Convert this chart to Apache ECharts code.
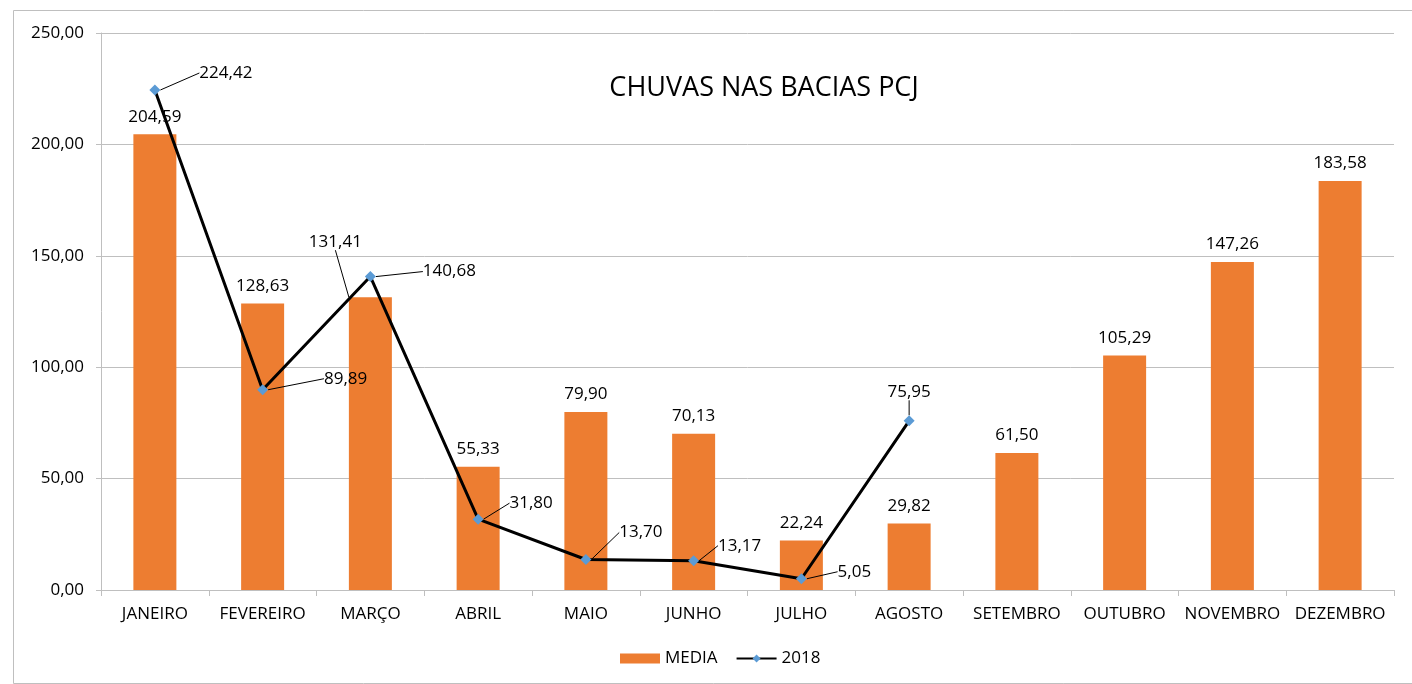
<!DOCTYPE html>
<html>
<head>
<meta charset="UTF-8">
<title>Chuvas nas Bacias PCJ</title>
<script src="https://cdn.jsdelivr.net/npm/echarts@6/dist/echarts.min.js" type="text/javascript"></script>
<style>
    body { margin: 0; background: #fff; }
    #container { width: 1412px; height: 684px; }
</style>
</head>
<body>
    <div id="container"></div>
    <script>

    // meses e valores
    var meses = ['JANEIRO', 'FEVEREIRO', 'MARÇO', 'ABRIL', 'MAIO', 'JUNHO', 'JULHO', 'AGOSTO', 'SETEMBRO', 'OUTUBRO', 'NOVEMBRO', 'DEZEMBRO'];
    var media = [204.59, 128.63, 131.41, 55.33, 79.90, 70.13, 22.24, 29.82, 61.50, 105.29, 147.26, 183.58];
    var chuva2018 = [224.42, 89.89, 140.68, 31.80, 13.70, 13.17, 5.05, 75.95, null, null, null, null];
    var yTicks = [0, 50, 100, 150, 200, 250];

    // deslocamento dos rotulos da linha 2018 (em px, a partir do ponto)
    var desloc2018 = [[71, -17], [83, -11], [79, -5], [53, -16], [55, -27], [46, -15], [53, -7], [0, -29]];

    var fonte = 'Open Sans';
    var tam = 17;

    function virgula(v) {
        return Number(v).toFixed(2).replace('.', ',');
    }

    var mychart = echarts.init(document.getElementById('container'));

    // dados das barras, o rotulo de marco fica deslocado com linha guia
    var barData = media.map(function (v, i) {
        if (i === 2) {
            return { value: v, labelLine: { show: true, lineStyle: { color: '#000', width: 1 } } };
        }
        return v;
    });

    var option = {
        animation: false,
        textStyle: { fontFamily: fonte },
        title: {
            text: 'CHUVAS NAS BACIAS PCJ',
            left: 759,
            textAlign: 'center',
            top: 70,
            textStyle: { fontFamily: fonte, fontSize: 27, fontWeight: 'normal', color: '#000' }
        },
        graphic: [{
            type: 'rect',
            shape: { x: 13.5, y: 10.5, width: 1420, height: 673 },
            style: { fill: 'none', stroke: '#bfbfbf', lineWidth: 1 },
            silent: true
        }],
        legend: {
            bottom: 12,
            left: 615,
            itemWidth: 40,
            itemHeight: 10,
            itemGap: 18,
            textStyle: { fontFamily: fonte, fontSize: tam, color: '#000' },
            data: [
                { name: 'MEDIA', icon: 'rect' },
                { name: '2018' }
            ]
        },
        grid: { left: 101, right: 18, top: 33, bottom: 94, containLabel: false },
        xAxis: {
            type: 'category',
            data: meses,
            axisLine: { lineStyle: { color: '#bfbfbf' } },
            axisTick: { show: true, length: 6, lineStyle: { color: '#bfbfbf' } },
            axisLabel: { color: '#000', fontSize: tam, fontFamily: fonte, margin: 16, interval: 0 }
        },
        yAxis: {
            type: 'value',
            min: yTicks[0],
            max: yTicks[yTicks.length - 1],
            interval: yTicks[1] - yTicks[0],
            axisLine: { show: true, lineStyle: { color: '#bfbfbf' } },
            axisTick: { show: true, length: 5, lineStyle: { color: '#bfbfbf' } },
            splitLine: { lineStyle: { color: '#bfbfbf' } },
            axisLabel: { color: '#000', fontSize: tam, fontFamily: fonte, margin: 17, formatter: virgula }
        },
        series: [{
            name: 'MEDIA',
            type: 'bar',
            data: barData,
            barWidth: 43,
            itemStyle: { color: '#ED7D31' },
            label: {
                show: true,
                position: 'top',
                distance: 9,
                color: '#000',
                fontSize: tam,
                fontFamily: fonte,
                formatter: function (p) { return virgula(p.value); }
            },
            labelLayout: function (p) {
                if (p.dataIndex === 2) {
                    return { dx: -35, dy: -38 };
                }
                return {};
            },
            z: 1
        }, {
            name: '2018',
            type: 'line',
            data: chuva2018,
            symbol: 'diamond',
            symbolSize: 11,
            itemStyle: { color: '#5B9BD5' },
            lineStyle: { color: '#000', width: 3 },
            label: {
                show: true,
                position: 'inside',
                color: '#000',
                fontSize: tam,
                fontFamily: fonte,
                formatter: function (p) { return virgula(p.value); }
            },
            labelLine: { show: true, lineStyle: { color: '#000', width: 1 } },
            labelLayout: function (p) {
                var d = desloc2018[p.dataIndex] || [0, 0];
                return { dx: d[0], dy: d[1] };
            },
            z: 3
        }]
    };

    mychart.setOption(option);

    </script>
</body>
</html>
